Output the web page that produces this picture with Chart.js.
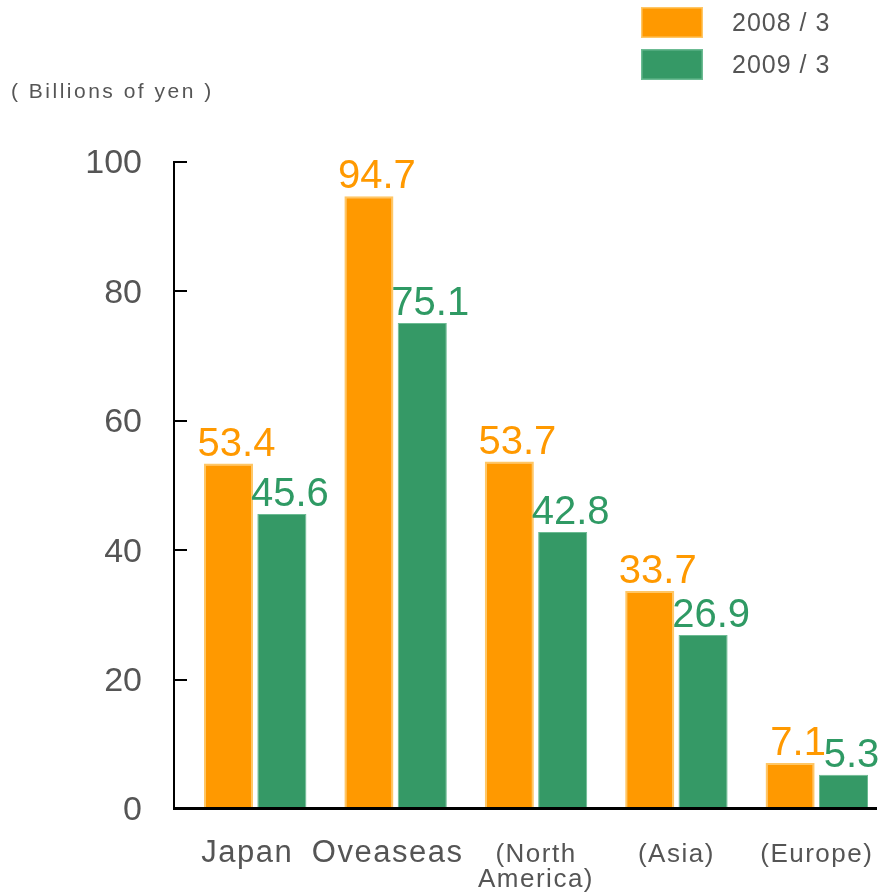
<!DOCTYPE html>
<html lang="en">
<head>
    <meta charset="UTF-8">
    <title>Sales by region</title>
    <script src="https://cdn.jsdelivr.net/npm/chart.js"></script>
    <style>
        html, body { margin: 0; padding: 0; background: #fff; overflow: hidden; }
    </style>
</head>
<body>
    <canvas id="salesChart" width="887" height="895"></canvas>
    <script>
        // values (billions of yen)
        const categories = [['Japan'], ['Oveaseas'], ['(North', 'America)'], ['(Asia)'], ['(Europe)']];
        const seriesNames = ['2008 / 3', '2009 / 3'];
        const sales2008 = [53.4, 94.7, 53.7, 33.7, 7.1];
        const sales2009 = [45.6, 75.1, 42.8, 26.9, 5.3];
        const yTicks = [0, 20, 40, 60, 80, 100];
        const unitLabel = '( Billions of yen )';

        const FONT = '"Liberation Sans", Arial, sans-serif';
        const GREY = '#555555';
        const ORANGE = '#ff9900';
        const GREEN = '#359966';

        const decor = {
            id: 'decor',
            afterDatasetsDraw(chart) {
                const ctx = chart.ctx;
                ctx.save();
                ctx.font = '40px ' + FONT;
                ctx.textAlign = 'center';
                ctx.textBaseline = 'alphabetic';
                chart.data.datasets.forEach((ds, i) => {
                    ctx.fillStyle = ds.labelColor;
                    chart.getDatasetMeta(i).data.forEach((bar, j) => {
                        ctx.fillText(ds.data[j].toFixed(1), bar.x + 8, bar.y - 8);
                    });
                });
                ctx.restore();
            },
            afterDraw(chart) {
                const { ctx, chartArea, scales: { x, y } } = chart;
                const axisX = chartArea.left - 11;
                ctx.save();

                // axes
                ctx.strokeStyle = '#000';
                ctx.lineWidth = 2;
                ctx.beginPath();
                ctx.moveTo(axisX, y.getPixelForValue(yTicks[yTicks.length - 1]) - 1);
                ctx.lineTo(axisX, chartArea.bottom);
                yTicks.forEach(v => {
                    const py = Math.round(y.getPixelForValue(v));
                    ctx.moveTo(axisX, py);
                    ctx.lineTo(axisX + 13, py);
                });
                ctx.stroke();
                ctx.lineWidth = 3;
                ctx.beginPath();
                ctx.moveTo(axisX - 1, chartArea.bottom - 0.5);
                ctx.lineTo(chartArea.right - 10, chartArea.bottom - 0.5);
                ctx.stroke();

                // category labels
                ctx.fillStyle = GREY;
                ctx.textAlign = 'center';
                ctx.textBaseline = 'alphabetic';
                categories.forEach((lines, i) => {
                    const sub = lines[0].startsWith('(');
                    const px = x.getPixelForTick(i) - (sub ? 0 : 8);
                    ctx.font = (sub ? '26px ' : '31px ') + FONT;
                    ctx.letterSpacing = '1.5px';
                    lines.forEach((line, k) => {
                        ctx.fillText(line, px, chartArea.bottom + 53 + k * 25);
                    });
                });

                // unit label
                ctx.textAlign = 'left';
                ctx.font = '21px ' + FONT;
                ctx.letterSpacing = '2.5px';
                ctx.fillText(unitLabel, 11, 98);

                // legend
                ctx.font = '25px ' + FONT;
                ctx.letterSpacing = '1px';
                ctx.textBaseline = 'middle';
                chart.data.datasets.forEach((ds, i) => {
                    const top = 7 + i * 42;
                    ctx.fillStyle = ds.backgroundColor;
                    ctx.fillRect(641, top, 62, 31);
                    ctx.strokeStyle = ds.borderColor;
                    ctx.lineWidth = 1.5;
                    ctx.strokeRect(641.75, top + 0.75, 60.5, 29.5);
                    ctx.fillStyle = GREY;
                    ctx.fillText(ds.label, 732, top + 17);
                });
                ctx.restore();
            }
        };

        new Chart(document.getElementById('salesChart').getContext('2d'), {
            type: 'bar',
            data: {
                labels: categories,
                datasets: [{
                    label: seriesNames[0],
                    data: sales2008,
                    backgroundColor: ORANGE,
                    borderColor: '#ffc766',
                    borderWidth: 2,
                    labelColor: ORANGE,
                    categoryPercentage: 0.76,
                    barPercentage: 0.92
                }, {
                    label: seriesNames[1],
                    data: sales2009,
                    backgroundColor: GREEN,
                    borderColor: '#6cbb93',
                    borderWidth: 1,
                    labelColor: '#2f9a64',
                    categoryPercentage: 0.76,
                    barPercentage: 0.92
                }]
            },
            options: {
                responsive: false,
                animation: false,
                devicePixelRatio: 1,
                layout: { padding: { top: 162, left: 0, right: 0, bottom: 0 } },
                plugins: {
                    legend: { display: false },
                    tooltip: { enabled: false },
                    title: { display: false }
                },
                scales: {
                    x: {
                        grid: { display: false },
                        border: { display: false },
                        ticks: { display: false },
                        afterFit(scale) { scale.height = 86; }
                    },
                    y: {
                        min: 0,
                        max: 100,
                        afterBuildTicks(scale) { scale.ticks = yTicks.map(v => ({ value: v })); },
                        grid: { display: false },
                        border: { display: false },
                        ticks: {
                            color: GREY,
                            padding: 35,
                            labelOffset: 2,
                            font: { family: FONT, size: 34 }
                        },
                        afterFit(scale) { scale.width = 185; }
                    }
                }
            },
            plugins: [decor]
        });
    </script>
</body>
</html>
